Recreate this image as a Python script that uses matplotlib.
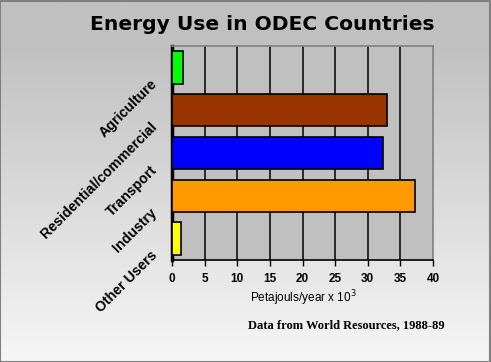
import numpy as np
import matplotlib
matplotlib.use("Agg")
import matplotlib.pyplot as plt
from matplotlib.patches import Rectangle
from matplotlib.colors import LinearSegmentedColormap

categories = ["Agriculture", "Residential/commercial", "Transport", "Industry", "Other Users"]
values = [1.7, 33.0, 32.4, 37.3, 1.4]
colors = ["#00ff00", "#993300", "#0000ff", "#ff9900", "#ffff00"]
xticks = [0, 5, 10, 15, 20, 25, 30, 35, 40]

W, H = 491, 362
fig = plt.figure(figsize=(W/100, H/100), dpi=100)

# gradient background
bg = fig.add_axes([0, 0, 1, 1], zorder=-10)
grad = np.linspace(0, 1, 256).reshape(-1, 1)
cmap = LinearSegmentedColormap.from_list("g", [(0, "#c0c0c0"), (0.12, "#c0c0c0"), (1, "#f6f6f6")])
bg.imshow(grad, aspect="auto", cmap=cmap, extent=[0, 1, 0, 1], origin="upper")
bg.add_patch(Rectangle((0.001, 0.001), 0.997, 0.996, fill=False, edgecolor="#808080", lw=1.5, transform=bg.transAxes))
bg.set_axis_off()

left, right, top, bottom = 172, 433, 46, 260
ax = fig.add_axes([left/W, 1-bottom/H, (right-left)/W, (bottom-top)/H])
ax.set_facecolor("#c0c0c0")
y = np.arange(len(categories))
ax.barh(y, values, height=0.76, color=colors, edgecolor="black", linewidth=1.2, zorder=3)
ax.set_ylim(len(categories)-0.5, -0.5)
ax.set_xlim(0, 40)
ax.set_xticks(xticks)
ax.set_xticklabels([str(t) for t in xticks], fontsize=8.5, fontweight="bold", family="Liberation Sans")
for t in xticks[1:-1]:
    ax.axvline(t, color="black", lw=1.1, zorder=1)
ax.tick_params(axis="x", direction="out", length=4, width=1, pad=5)
ax.set_yticks([])
for s in ["top", "right"]:
    ax.spines[s].set_color("#808080")
    ax.spines[s].set_linewidth(1.2)
ax.spines["left"].set_linewidth(2.5)
ax.spines["left"].set_color("black")
ax.spines["bottom"].set_linewidth(1.2)

for i, c in enumerate(categories):
    ax.annotate(c, xy=(0, i), xycoords="data", xytext=(-16, -7), textcoords="offset points",
                rotation=45, ha="right", va="top", rotation_mode="anchor", fontsize=10.2,
                fontweight="bold", family="Liberation Sans")

fig.text(262/W, 1-25/H, "Energy Use in ODEC Countries", ha="center", va="center",
         fontsize=14.6, fontweight="bold")
fig.text(303/W, 1-298/H, "Petajouls/year x 10$^3$", ha="center", va="center", fontsize=8.5,
         family="Liberation Sans")
fig.text(346/W, 1-325/H, "Data from World Resources, 1988-89", ha="center", va="center",
         fontsize=9, fontweight="bold", family="Liberation Serif")

fig.savefig("out.png", dpi=100)
